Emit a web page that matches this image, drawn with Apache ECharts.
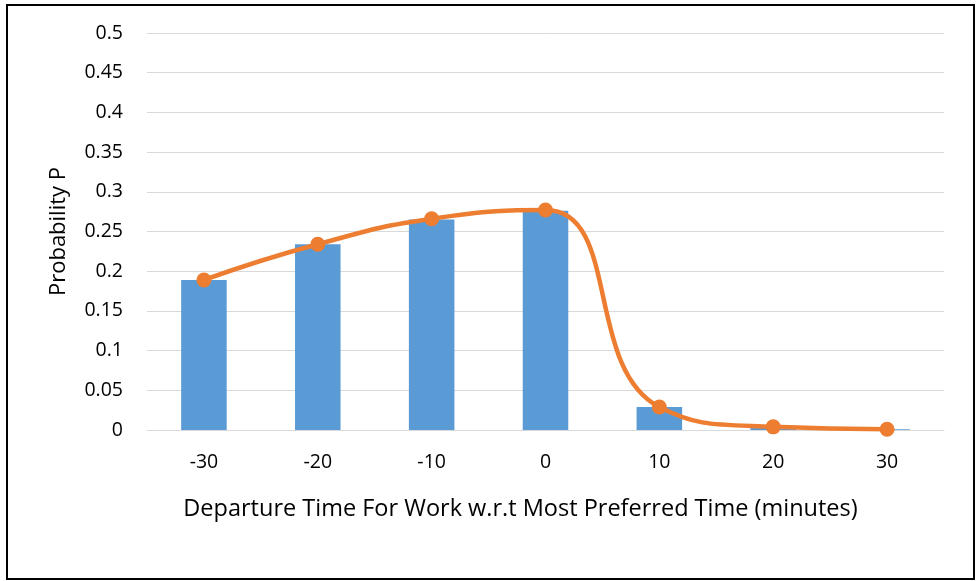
<!DOCTYPE html>
<html>
<head>
<meta charset="utf-8">
<script src="https://cdn.jsdelivr.net/npm/echarts@6/dist/echarts.min.js"></script>
<style>
html,body{margin:0;padding:0;background:#fff;}
#main{width:976px;height:581px;}
</style>
</head>
<body>
<div id="main"></div>
<script>
var categories = ['-30', '-20', '-10', '0', '10', '20', '30'];
var barValues = [0.189, 0.234, 0.265, 0.276, 0.029, 0.003, 0.001];
var lineValues = [0.189, 0.234, 0.266, 0.277, 0.029, 0.004, 0.001];
var yTicks = { min: 0, max: 0.5, interval: 0.05 };
var xTitle = 'Departure Time For Work w.r.t Most Preferred Time (minutes)';
var yTitle = 'Probability P';

var font = '"Open Sans", Lato, sans-serif';
var chart = echarts.init(document.getElementById('main'));
chart.setOption({
  animation: false,
  backgroundColor: '#fff',
  graphic: [{
    type: 'rect',
    shape: { x: 7, y: 5, width: 967, height: 574 },
    style: { fill: 'none', stroke: '#000', lineWidth: 2 },
    silent: true
  }],
  grid: { left: 147, right: 32, top: 33, bottom: 151 },
  xAxis: {
    type: 'category',
    data: categories,
    axisLine: { show: true, lineStyle: { color: '#D9D9D9', width: 1 } },
    axisTick: { show: false },
    axisLabel: { color: '#000', fontSize: 19.5, fontFamily: font, margin: 22 },
    name: xTitle,
    nameLocation: 'middle',
    nameGap: 67,
    nameTextStyle: { color: '#000', fontSize: 23.5, fontFamily: font, padding: [0, 50, 0, 0] }
  },
  yAxis: {
    type: 'value',
    min: yTicks.min, max: yTicks.max, interval: yTicks.interval,
    axisLine: { show: false },
    axisTick: { show: false },
    splitLine: { lineStyle: { color: '#D9D9D9', width: 1 } },
    axisLabel: { color: '#000', fontSize: 19.5, fontFamily: font, margin: 24 },
    name: yTitle,
    nameLocation: 'middle',
    nameGap: 77,
    nameTextStyle: { color: '#000', fontSize: 22, fontFamily: font }
  },
  series: [{
    type: 'bar',
    data: barValues,
    barWidth: '40%',
    itemStyle: { color: '#5B9BD5' }
  }, {
    type: 'line',
    data: lineValues,
    smooth: 0.5,
    symbol: 'circle',
    symbolSize: 15,
    lineStyle: { color: '#ED7D31', width: 4.5 },
    itemStyle: { color: '#ED7D31' }
  }]
});
</script>
</body>
</html>
